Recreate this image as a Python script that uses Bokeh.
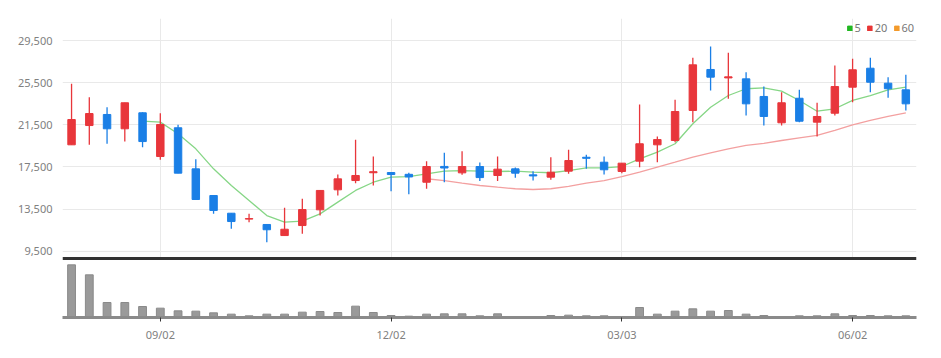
import numpy as np
from bokeh.plotting import figure
from bokeh.layouts import column
from bokeh.models import Range1d, FixedTicker, NumeralTickFormatter, ColumnDataSource, Span
from bokeh.embed import file_html
from bokeh.resources import INLINE

nan = np.nan

# ---- data (weekly candles) ----
opens  = [19600, 21430, 22480, 21120, 22640, 18490, 21220, 17320, 14790, 13110,
          12550, 12040, 10990, 11940, 13430, 15330, 16210, 16950, 16970, 16800,
          16050, 17550, 16940, 17540, 16690, 17320, 16750, 16530, 17100, 18420,
          17950, 17070, 18050, 19600, 20010, 22860, 26750, 25950, 25860, 24190,
          21690, 24020, 21750, 22600, 25070, 26870, 25450, 24820]
highs  = [25400, 24120, 23170, 23590, 22700, 22600, 21500, 18240, 14790, 13110,
          13050, 12040, 13620, 14480, 15270, 16780, 20080, 18490, 17000, 16950,
          18050, 18840, 18990, 17920, 18490, 17450, 17100, 18430, 19130, 18650,
          18490, 17880, 23430, 20390, 23870, 27860, 28930, 28330, 26490, 25130,
          24590, 24820, 23590, 27130, 27760, 27860, 26020, 26250]
lows   = [19600, 19600, 19700, 19910, 19380, 18180, 16910, 14410, 13050, 11630,
          12260, 10360, 10990, 11150, 12890, 14790, 15960, 15740, 15200, 14900,
          15430, 16050, 16750, 16170, 16170, 16470, 16210, 16280, 16850, 17320,
          16780, 16910, 17480, 17950, 19850, 21750, 24760, 23970, 22380, 21440,
          21440, 21750, 20390, 22380, 23650, 24590, 24060, 22860]
closes = [22000, 22570, 21120, 23590, 19910, 21530, 16910, 14410, 13370, 12320,
          12600, 11540, 11590, 13460, 15270, 16370, 16690, 17050, 16780, 16550,
          17540, 17400, 17540, 16490, 17290, 16910, 16650, 17000, 18110, 18320,
          17230, 17860, 19700, 20100, 22760, 27190, 26020, 26050, 23490, 22290,
          23590, 21840, 22290, 25130, 26720, 25540, 24920, 23490]
volumes = [158, 128, 45, 45, 33, 28, 20, 19, 14, 10, 5, 10, 10, 16, 18, 15, 34, 15,
           6, 4, 10, 11, 11, 5, 11, 2, 2, 6, 7, 5, 5, 2, 30, 10, 19, 26, 19, 21,
           10, 6, 2, 5, 5, 11, 6, 6, 5, 5]
ma5 = [nan, nan, nan, nan,
       21840, 21750, 20650, 19220, 17320, 15740, 14320, 12890, 12260, 12350,
       13050, 14160, 15270, 16050, 16530, 16590, 16850, 17100, 17160, 17100,
       17070, 17100, 17000, 16950, 17160, 17420, 17420, 17540, 18270, 18900,
       19700, 21600, 23170, 24280, 24920, 25010, 24690, 23810, 22790, 23020,
       23810, 24280, 24820, 25070]
ma20 = [nan] * 20 + [16380, 16210, 15960, 15740, 15580, 15430, 15360, 15430,
                     15650, 15960, 16210, 16590, 17000, 17480, 17950, 18430,
                     18840, 19220, 19540, 19730, 20010, 20250, 20490, 20960,
                     21500, 21910, 22290, 22640]
tick_idx = [5, 18, 31, 44]
tick_labels = ["09/02", "12/02", "03/03", "06/02"]
y_ticks = [9500, 13500, 17500, 21500, 25500, 29500]
legend_labels = ["5", "20", "60"]
legend_colors = ["#22b822", "#e83535", "#f39a2b"]

RED = "#e8363b"
BLUE = "#1a7fe6"
FONT = "Noto Sans"

n = len(closes)
idx = list(range(n))
up = [c >= o for o, c in zip(opens, closes)]
src = ColumnDataSource(dict(
    x=idx,
    top=[max(o, c) for o, c in zip(opens, closes)],
    bottom=[min(o, c) for o, c in zip(opens, closes)],
    high=highs, low=lows,
    color=[RED if u else BLUE for u in up],
    vol=volumes,
    ma5=ma5, ma20=ma20,
))

xr = Range1d(-0.51, 47.6)
W = 933

p = figure(width=W, height=260, x_range=xr, y_range=Range1d(8622, 31588),
           output_backend="svg", toolbar_location=None,
           min_border_left=62, min_border_right=17, min_border_top=18, min_border_bottom=0)
p.outline_line_color = None
p.xaxis.visible = False
p.xgrid.ticker = FixedTicker(ticks=tick_idx)
p.xgrid.grid_line_color = "#e9e9e9"
p.ygrid.ticker = FixedTicker(ticks=y_ticks)
p.ygrid.grid_line_color = "#e9e9e9"
p.yaxis.ticker = FixedTicker(ticks=y_ticks)
p.yaxis.formatter = NumeralTickFormatter(format="0,0")
p.yaxis.axis_line_color = None
p.yaxis.major_tick_line_color = None
p.yaxis.minor_tick_line_color = None
p.yaxis.major_label_text_font = FONT
p.yaxis.major_label_text_font_size = "11px"
p.yaxis.major_label_text_color = "#808080"
p.yaxis.major_label_standoff = 4

p.line("x", "ma20", source=src, color="#f3a0a0", line_width=1.3)
p.line("x", "ma5", source=src, color="#86d686", line_width=1.3)
p.segment("x", "high", "x", "low", source=src, color="color", line_width=1.3)
p.vbar(x="x", width=0.42, top="top", bottom="bottom", source=src,
       fill_color="color", line_color="color", line_width=1)

p.add_layout(Span(location=8812, dimension="width", line_color="#333333", line_width=3))

for lab, col in zip(legend_labels, legend_colors):
    p.vbar(x=[nan], top=[nan], bottom=[nan], width=1, fill_color=col,
           line_color=col, legend_label=lab)
p.legend.orientation = "horizontal"
p.legend.location = "top_right"
p.legend.border_line_color = None
p.legend.background_fill_alpha = 0
p.legend.label_text_font = FONT
p.legend.label_text_font_size = "11px"
p.legend.label_text_color = "#777777"
p.legend.glyph_width = 6
p.legend.glyph_height = 6
p.legend.label_standoff = 2
p.legend.label_width = 0
p.legend.spacing = 6
p.legend.padding = 0
p.legend.margin = 2
p.legend.label_height = 12

pv = figure(width=W, height=84, x_range=xr, y_range=Range1d(0, 171),
            output_backend="svg", toolbar_location=None,
            min_border_left=62, min_border_right=17, min_border_top=0, min_border_bottom=0)
pv.outline_line_color = None
pv.yaxis.visible = False
pv.xgrid.visible = False
pv.ygrid.visible = False
pv.vbar(x="x", width=0.44, top="vol", bottom=0, source=src,
        fill_color="#9a9a9a", line_color="#8a8a8a")
pv.xaxis.ticker = FixedTicker(ticks=tick_idx)
pv.xaxis.major_label_overrides = {i: t for i, t in zip(tick_idx, tick_labels)}
pv.xaxis.axis_line_color = "#8a8a8a"
pv.xaxis.axis_line_width = 3
pv.xaxis.major_tick_line_color = "#333333"
pv.xaxis.major_tick_in = 0
pv.xaxis.major_tick_out = 4
pv.xaxis.minor_tick_line_color = None
pv.xaxis.major_label_text_font = FONT
pv.xaxis.major_label_text_font_size = "11px"
pv.xaxis.major_label_text_color = "#808080"
pv.xaxis.major_label_standoff = 5

layout = column(p, pv, spacing=0)
open("out.html", "w").write(file_html(layout, INLINE))
